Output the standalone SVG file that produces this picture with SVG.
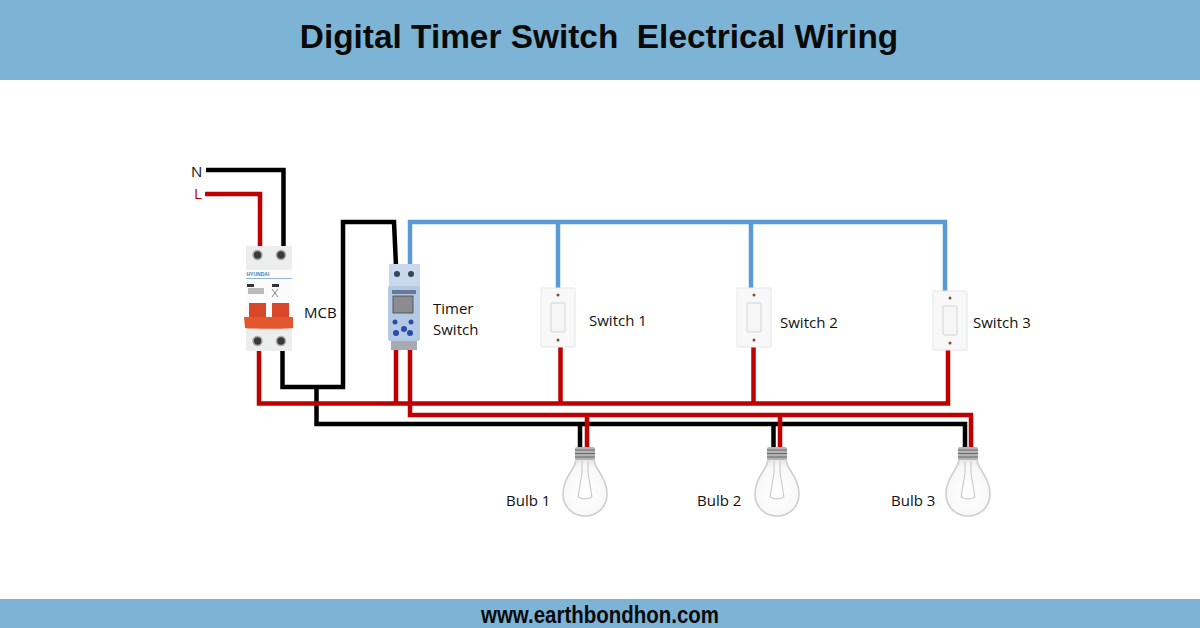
<svg xmlns="http://www.w3.org/2000/svg" width="1200" height="628" viewBox="0 0 1200 628">
<style>
.w{fill:none;stroke-width:4.5;stroke-linejoin:miter}
.k{stroke:#000}.r{stroke:#c00000}.b{stroke:#5b9bd5}
.t{font-family:"Open Sans","Liberation Sans",sans-serif;font-size:15px;fill:#111}
.plate{fill:#f8f8f8;stroke:#e6e6e6;stroke-width:1}
.rock{fill:#f6f6f6;stroke:#d4d4d4;stroke-width:1}
.scr{fill:#6b5a30}
.glass{fill:url(#gl);stroke:#cfcfcf;stroke-width:1.6}
.fil{fill:none;stroke:#b5b5b5;stroke-width:.8}
.term{fill:#3a3a3a;stroke:#aaa;stroke-width:1.5}
</style>
<defs>
<radialGradient id="gl" cx=".5" cy=".6" r=".6"><stop offset="0" stop-color="#fff"/><stop offset=".8" stop-color="#f8f8f8"/><stop offset="1" stop-color="#e6e6e6"/></radialGradient>
<g id="sw">
<rect class="plate" x="-17" y="0" width="34" height="59" rx="1"/>
<rect class="rock" x="-7" y="15" width="14" height="29" rx="1"/>
<circle class="scr" cx="0" cy="7" r="1.5"/>
<circle class="scr" cx="0" cy="52" r="1.5"/>
</g>
<g id="bulb">
<path class="glass" d="M-9 12 C-9 22 -22 30 -22 47 C-22 60 -12 69 0 69 C12 69 22 60 22 47 C22 30 9 22 9 12 Z"/>
<path class="fil" d="M-3 14 L-3 26 L-7 50 Q0 54 7 50 L3 26 L3 14"/>
<rect x="-10" y="0" width="20" height="13" rx="2" fill="#b4b4b4"/>
<path d="M-10 3H10M-10 6.500H10M-10 10H10" stroke="#666" stroke-width="1.200"/>
</g>
</defs>
<rect width="1200" height="628" fill="#fff"/>
<rect id="header" width="1200" height="80" fill="#7db4d6"/>
<text x="599" y="48" text-anchor="middle" xml:space="preserve" style="white-space:pre" font-family="Liberation Sans,Arial,sans-serif" font-weight="700" font-size="33.400" fill="#0a0a0a">Digital Timer Switch  Electrical Wiring</text>
<rect id="footer" y="599" width="1200" height="29" fill="#7db4d6"/>
<text x="600" y="623" text-anchor="middle" font-family="Liberation Sans,Arial,sans-serif" font-weight="700" font-size="24" textLength="238" lengthAdjust="spacingAndGlyphs" fill="#0a0a0a">www.earthbondhon.com</text>

<g id="connectors">
<path class="w k" d="M206 170H283.500V248"/>
<path class="w r" d="M205 194H260V248"/>
<path class="w b" d="M410 266V222H945V291M558 222V291M751 222V291"/>
<path class="w k" d="M396 266L394 222H343V387H282.500V350"/>
<path class="w k" d="M316.500 387V424H965V448M580 424V448M773.500 424V448"/>
<path class="w r" d="M259 350V403.500H948V346M396 350V403.500M560.500 346V403.500M753.500 346V403.500"/>
<path class="w r" d="M410 350V415H971V448M587 415V448M780 415V448"/>
</g>

<g id="mcb">
<rect x="246" y="246" width="46" height="105" fill="#eceded"/>
<rect x="246" y="270" width="46" height="50" fill="#fbfbfb"/>
<circle class="term" cx="257.500" cy="255" r="4.500"/><circle class="term" cx="281" cy="255" r="4.500"/>
<circle class="term" cx="257.500" cy="341" r="4.500"/><circle class="term" cx="281" cy="341" r="4.500"/>
<text x="246.500" y="276" font-family="Liberation Sans,sans-serif" font-size="5" font-weight="700" fill="#4c7fb0">HYUNDAI</text>
<rect x="246" y="278" width="46" height="1" fill="#8fb7d6"/>
<rect x="247" y="284" width="7" height="3" fill="#333"/><rect x="272" y="284" width="7" height="3" fill="#333"/>
<rect x="248" y="288" width="16" height="6" fill="#bbb"/><path d="M272 289l6 8M278 289l-6 8" stroke="#555" stroke-width=".7"/>
<path d="M249 303H266V320H249ZM272 303H289V320H272Z" fill="#d9472b"/>
<path d="M244 317H293V328C290 329 248 329 245 328Z" fill="#e3572f"/>
</g>

<g id="timer">
<rect x="389" y="264" width="31" height="24" fill="#c9d8ea"/>
<rect x="388" y="286" width="32" height="55" rx="2" fill="#b3c9e4"/>
<rect x="391" y="341" width="26" height="9" fill="#a9a9b4"/>
<circle cx="397" cy="274" r="3" fill="#35465a"/><circle cx="411" cy="274" r="3" fill="#35465a"/>
<rect x="392" y="290" width="24" height="4" fill="#667a96"/>
<rect x="393" y="296" width="20" height="17" fill="#8c8c90" stroke="#444" stroke-width=".8"/>
<circle cx="395" cy="322" r="2.500" fill="#2a4ea8"/><circle cx="411" cy="322" r="2.500" fill="#2a4ea8"/>
<circle cx="396" cy="333" r="3" fill="#2a4ea8"/><circle cx="404" cy="329" r="3" fill="#2a4ea8"/><circle cx="410" cy="333" r="3" fill="#2a4ea8"/>
</g>

<g id="switch1"><use href="#sw" x="558" y="288"/><text class="t" x="589" y="326">Switch 1</text></g>
<g id="switch2"><use href="#sw" x="754" y="288"/><text class="t" x="780" y="328">Switch 2</text></g>
<g id="switch3"><use href="#sw" x="950" y="291"/><text class="t" x="973" y="328">Switch 3</text></g>
<g id="bulb1"><use href="#bulb" x="585" y="447"/><text class="t" x="506" y="506">Bulb 1</text></g>
<g id="bulb2"><use href="#bulb" x="777" y="447"/><text class="t" x="697" y="506">Bulb 2</text></g>
<g id="bulb3"><use href="#bulb" x="968" y="447"/><text class="t" x="891" y="506">Bulb 3</text></g>

<text class="t" x="191" y="177">N</text>
<text class="t" x="194" y="199" style="fill:#c00000">L</text>
<text class="t" x="304" y="318">MCB</text>
<text class="t" x="433" y="314">Timer</text>
<text class="t" x="433" y="335">Switch</text>
</svg>
